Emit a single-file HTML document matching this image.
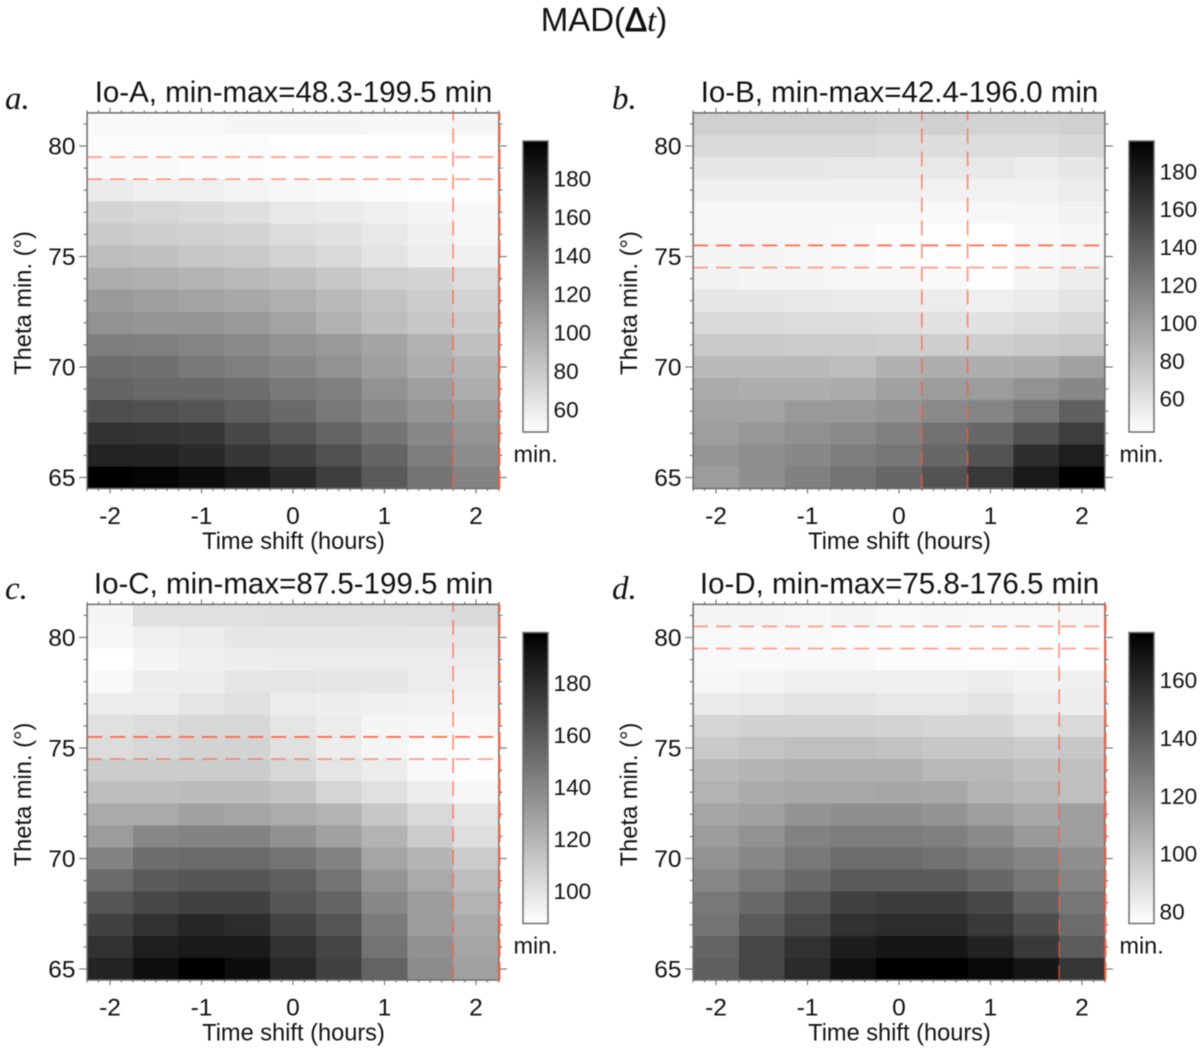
<!DOCTYPE html>
<html lang="en">
<head>
<meta charset="utf-8">
<title>MAD(Δt)</title>
<style>
html,body{margin:0;padding:0;background:#fff;}
svg{display:block;filter:blur(0.45px);font-family:"Liberation Sans",sans-serif;fill:#111;}
</style>
</head>
<body>
<svg id="figure" xmlns="http://www.w3.org/2000/svg" width="1200" height="1051" viewBox="0 0 1200 1051">
<text x="604" y="31" text-anchor="middle" font-size="33">MAD(<tspan stroke="#111" stroke-width="0.9">Δ</tspan><tspan font-family="Liberation Serif" font-style="italic">t</tspan>)</text>
</svg>
<script>
// Categories
const timeShifts = [-2, -1.5, -1, -0.5, 0, 0.5, 1, 1.5, 2];
const thetaMins = [81, 80, 79, 78, 77, 76, 75, 74, 73, 72, 71, 70, 69, 68, 67, 66, 65];

// Tick labels
const xTickValues = [-2, -1, 0, 1, 2];
const yTickValues = [80, 75, 70, 65];
const colorbarTicksA = [180, 160, 140, 120, 100, 80, 60];
const colorbarTicksB = [180, 160, 140, 120, 100, 80, 60];
const colorbarTicksC = [180, 160, 140, 120, 100];
const colorbarTicksD = [160, 140, 120, 100, 80];

// Panel labels and colour ranges (minutes)
const panelLetters = ['a.', 'b.', 'c.', 'd.'];
const panelTitles = ['Io-A, min-max=48.3-199.5 min', 'Io-B, min-max=42.4-196.0 min', 'Io-C, min-max=87.5-199.5 min', 'Io-D, min-max=75.8-176.5 min'];
const rangeMin = [48.3, 42.4, 87.5, 75.8];
const rangeMax = [199.5, 196.0, 199.5, 176.5];

// Best-fit guide lines (theta min. and time shift values)
const guideThetaA = [79.5, 78.5];
const guideThetaB = [75.5, 74.5];
const guideThetaC = [75.5, 74.5];
const guideThetaD = [80.5, 79.5];
const guideTimeA = [1.75, 2.25];
const guideTimeB = [0.25, 0.75];
const guideTimeC = [1.75, 2.25];
const guideTimeD = [1.75, 2.25];

// MAD values in minutes: one row per theta min. (81 down to 65), one column per time shift
const valuesA = [
[52,52,52,54,54,54,53,53,54],
[50,50,50,50,48.3,48.3,48.3,48.3,49.5],
[52,51,50,50,49.5,49.5,49.5,49,49],
[60,58,58,55,53,51,50.5,49.5,49.5],
[74,72,70,67,62,60,58,54,53],
[80,77,76,74,69,66,62,57,53],
[87,85,82,80,75,71,65,59,57],
[97,96,93,90,87,81,76,74,69],
[108,106,103,100,96,90,84,78,74],
[113,111,111,108,102,94,87,81,78],
[125,124,121,118,113,108,102,94,86],
[135,133,128,124,119,113,105,97,92],
[140,138,137,134,127,124,113,105,97],
[153,152,149,143,137,128,119,111,105],
[170,169,167,157,149,140,130,119,111],
[179,179,175,167,161,152,140,125,116],
[199.5,197,192,185,175,163,146,131,122]
];
const valuesB = [
[71,71,71,71,69,71,69,69,71],
[65,65,65,65,63,63,63,63,66],
[57,57,57,56,56,56,56,54,57],
[52,52,52,52,52,51,51,51,54],
[47,47,47,47,47,46,47,48,50],
[48,48,47,46,44,43,42.4,46,47],
[48.5,48.5,47,46,44,43,42.4,46,48],
[50,48.5,48.5,47,47,46,43,48.5,53],
[57,57,56,55,55,54,52,55,59],
[65,65,63,63,62,60,60,63,66],
[75,75,73,73,72,72,72,75,76],
[84,84,84,82,90,91,91,93,99],
[93,91,91,93,99,102,102,108,114],
[98,98,104,104,107,113,116,125,138],
[101,105,109,113,119,128,134,147,159],
[106,110,114,121,125,134,146,168,178],
[102,110,118,127,134,146,162,181,196]
];
const valuesC = [
[92,101,101,101,102,102,102,102,104],
[91,94,96,98,98,98,99,98,98],
[87.5,92,94,95,96,96,96,96,96],
[90,95,95,99,99,98,98,96,94],
[96,96,99,101,96,95,94,93,92],
[101,103,105,105,99,96,92,91,90],
[103,105,107,107,101,96,92,89,88],
[110,110,110,110,105,99,96,90,88],
[116,116,117,117,114,106,101,95,91],
[125,125,129,127,124,121,112,104,99],
[131,140,142,142,136,129,121,110,102],
[142,151,153,153,149,142,127,120,110],
[153,160,162,162,158,149,134,125,116],
[162,168,171,171,162,156,140,131,121],
[171,178,183,180,170,162,145,131,125],
[178,186,188,188,178,169,149,136,127],
[184,193,199.5,194,182,171,156,138,129]
];
const valuesD = [
[80,80,79,80,78,79,78.5,78.5,79],
[78,78,78,77,76.6,76.6,75.8,75.8,75.8],
[78.5,78,78,78,77,77,76.6,77,75.8],
[79,80,82,82,82,82,83,81,82],
[84,85,87,87,85,85,87,83,83],
[92,94,94,94,93,92,92,88,91],
[97,99,101,101,100,98,98,96,98],
[103,105,107,107,107,104,104,101,101],
[106,109,110,110,111,110,106,104,101],
[111,113,118,120,120,118,114,110,114],
[115,119,125,127,127,126,122,116,114],
[119,123,129,134,134,132,128,124,120],
[123,129,135,141,141,141,136,130,124],
[129,135,143,151,153,153,148,138,130],
[131,141,149,157,159,159,154,146,134],
[137,149,157,165,168,168,163,154,140],
[139,149,160,170,176.5,176.5,173,168,155]
];

const allValues = [valuesA, valuesB, valuesC, valuesD];
const allColorbarTicks = [colorbarTicksA, colorbarTicksB, colorbarTicksC, colorbarTicksD];
const allGuideTheta = [guideThetaA, guideThetaB, guideThetaC, guideThetaD];
const allGuideTime = [guideTimeA, guideTimeB, guideTimeC, guideTimeD];

const NS = 'http://www.w3.org/2000/svg';
const root = document.getElementById('figure');
const AXIS = '#6e6e6e';

function mk(tag, attrs, parent, text) {
  const el = document.createElementNS(NS, tag);
  for (const k in attrs) el.setAttribute(k, attrs[k]);
  if (text !== undefined) el.textContent = text;
  parent.appendChild(el);
  return el;
}

function greyFor(v, lo, hi) {
  const f = Math.max(0, Math.min(1, (v - lo) / (hi - lo)));
  const g = Math.round(255 * (1 - f));
  return 'rgb(' + g + ',' + g + ',' + g + ')';
}

const defs = mk('defs', {}, root);
const grad = mk('linearGradient', {id: 'cbar-gradient', x1: 0, y1: 0, x2: 0, y2: 1}, defs);
mk('stop', {offset: '0', 'stop-color': '#000'}, grad);
mk('stop', {offset: '1', 'stop-color': '#fff'}, grad);

function drawPanel(p) {
  const col = p % 2, row = p >> 1;
  const dx = col * 606, dy = row * 491.5;
  const x = t => 293 + dx + t * 91.5;
  const y = th => 146 + dy + (80 - th) * 22.1;
  const left = x(-2.25), right = x(2.25), top = y(81.5), bottom = y(64.5);
  const lo = rangeMin[p], hi = rangeMax[p];
  const name = 'abcd'[p];

  const g = mk('g', {}, root);
  
  

  // heatmap cells
  const cells = mk('g', {'shape-rendering': 'crispEdges'}, g);
  
  
  thetaMins.forEach((th, r) => {
    timeShifts.forEach((t, c) => {
      const rect = mk('rect', {
        x: x(t - 0.25), y: y(th + 0.5),
        width: x(t + 0.25) - x(t - 0.25) + 0.4,
        height: y(th - 0.5) - y(th + 0.5) + 0.4,
        fill: greyFor(allValues[p][r][c], lo, hi)
      }, cells);
      
      
    });
  });

  // frame
  const frame = mk('rect', {x: left, y: top, width: right - left, height: bottom - top, fill: 'none', stroke: AXIS, 'stroke-width': 1.5}, g);
  
  

  // x ticks
  const ticks = mk('g', {stroke: AXIS, 'stroke-width': 1.1, fill: 'none'}, g);
  
  
  for (let i = -18; i <= 18; i++) {
    const t = i / 8;
    const major = i % 8 === 0;
    const len = major ? 5 : 2.5;
    mk('line', {x1: x(t), x2: x(t), y1: bottom, y2: bottom + len}, ticks);
    mk('line', {x1: x(t), x2: x(t), y1: top, y2: top - len}, ticks);
  }
  // y ticks
  for (let th = 65; th <= 81; th++) {
    const major = th % 5 === 0;
    const len = major ? 8 : 3.5;
    mk('line', {x1: left, x2: left - len, y1: y(th), y2: y(th)}, ticks);
    mk('line', {x1: right, x2: right + len, y1: y(th), y2: y(th)}, ticks);
  }

  // guides
  allGuideTheta[p].forEach((th, k) => {
    const strong = p === 1 && k === 0 || p === 2 && k === 0;
    const l = mk('line', {x1: left, x2: right, y1: y(th), y2: y(th), stroke: '#ff5a36', 'stroke-opacity': strong ? 0.95 : 0.62, 'stroke-width': 1.6, 'stroke-dasharray': '15 8'}, g);
    
    
  });
  allGuideTime[p].forEach(t => {
    const edge = t === 2.25;
    const l = mk('line', {x1: x(t) + (edge ? 0.6 : 0), x2: x(t) + (edge ? 0.6 : 0), y1: bottom, y2: top, stroke: '#ff5a36', 'stroke-opacity': edge ? 0.8 : 0.68, 'stroke-width': edge ? 2.2 : 1.6, 'stroke-dasharray': edge ? '18 5' : '15 8'}, g);
    
    
  });

  // tick labels
  xTickValues.forEach(v => {
    const tl = mk('text', {x: x(v), y: 524 + dy, 'text-anchor': 'middle', 'font-size': 24.5}, g, String(v));
    
    
  });
  yTickValues.forEach(v => {
    const tl = mk('text', {x: 75.5 + dx, y: y(v) + 8.5, 'text-anchor': 'end', 'font-size': 24.5}, g, String(v));
    
    
  });

  // axis titles
  const xt = mk('text', {x: 293.5 + dx, y: 549 + dy, 'text-anchor': 'middle', 'font-size': 23.6}, g, 'Time shift (hours)');
  
  
  const yx = 31 + dx, yy = 303 + dy;
  const yt = mk('text', {x: yx, y: yy, transform: 'rotate(-90 ' + yx + ' ' + yy + ')', 'text-anchor': 'middle', 'font-size': 23.7}, g, 'Theta min. (°)');
  
  

  // panel title and letter
  const tt = mk('text', {x: 293.5 + dx, y: 102 + dy, 'text-anchor': 'middle', 'font-size': 29.5}, g, panelTitles[p]);
  
  
  const lt = mk('text', {x: 5 + dx + (col ? 1 : 0), y: 109 + row * 490, 'font-size': 33, 'font-style': 'italic', 'font-family': 'Liberation Serif, serif'}, g, panelLetters[p]);
  
  

  // colorbar
  const cbTop = 141 + dy, cbBottom = 432 + dy, cbLeft = 523 + dx, cbW = 25;
  const cy = v => cbBottom - (v - lo) / (hi - lo) * (cbBottom - cbTop);
  const cb = mk('rect', {x: cbLeft, y: cbTop, width: cbW, height: cbBottom - cbTop, fill: 'url(#cbar-gradient)', stroke: AXIS, 'stroke-width': 1.5}, g);
  
  
  allColorbarTicks[p].forEach(v => {
    const cl = mk('text', {x: cbLeft + 30.5, y: cy(v) + 8, 'font-size': 22.6}, g, String(v));
    
    
  });
  const unit = mk('text', {x: cbLeft - 9.5, y: 462 + dy, 'font-size': 23.4}, g, 'min.');
  
  
}

[0, 1, 2, 3].forEach(drawPanel);
</script>
</body>
</html>
